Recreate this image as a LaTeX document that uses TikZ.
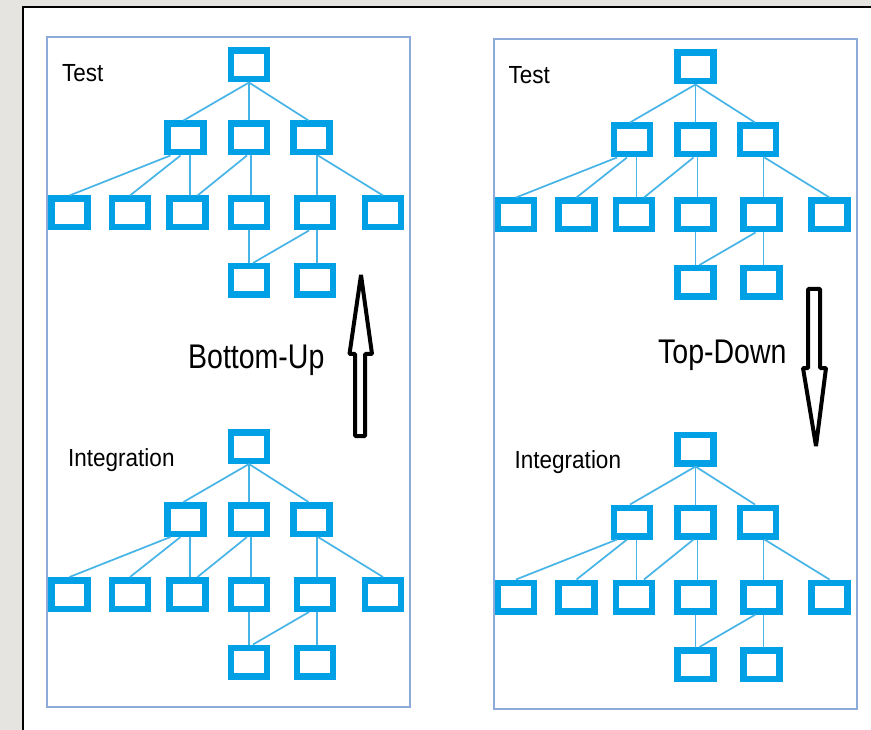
\documentclass[tikz,border=0pt]{standalone}
\usepackage{fontspec}
\setmainfont{Liberation Sans}
\usepackage{graphicx}
\definecolor{boxblue}{RGB}{0,160,230}
\definecolor{linkblue}{RGB}{70,180,230}
\definecolor{panelblue}{RGB}{140,170,218}
\definecolor{slidegray}{RGB}{230,228,225}

\begin{document}
\begin{tikzpicture}[x=1pt,y=-1pt,
	unit/.style={draw=boxblue, line width=6.5pt, fill=white, minimum width=36pt, minimum height=28.5pt, inner sep=0pt},
	link/.style={draw=linkblue, line width=1.7pt},
	panel/.style={draw=panelblue, line width=2pt},
	bigarrow/.style={draw=black, line width=4pt, fill=white, line join=bevel},
	lbl/.style={anchor=base west, inner sep=0pt, font=\fontsize{22.5}{24}\selectfont},
	mode/.style={anchor=base west, inner sep=0pt, font=\fontsize{28.5}{30}\selectfont}]

		\useasboundingbox (0,0) rectangle (871,730);
		\clip (0,0) rectangle (871,730);
		\fill[slidegray] (0,0) rectangle (871,730);
		\draw[fill=white, line width=2pt] (23,7.5) rectangle (890,750);

		% the two panels
		\draw[panel] (47,37) rectangle (410,707);
		\draw[panel] (493.5,39) rectangle (857,709);

		% four copies of the same tree
		\foreach \t/\dx/\dy/\txt/\lx/\ly in {lt/0/0/Test/62/82, lb/0/381.5/Integration/68/84.5,
				rt/446.5/2/Test/62/82, rb/446.5/384/Integration/68/84.5} {
			\begin{scope}[shift={(\dx,\dy)}]
				\node[lbl] (\t-name) at (\lx,\ly) {\scalebox{1}[1.1]{\txt}};

				\node[unit] (\t-r) at (249,65) {};
				\node[unit] (\t-a) at (185.5,138) {};
				\node[unit] (\t-b) at (249,138) {};
				\node[unit] (\t-c) at (311.5,138) {};
				\node[unit] (\t-l1) at (69.5,213) {};
				\node[unit] (\t-l2) at (130,213) {};
				\node[unit] (\t-l3) at (187.5,213) {};
				\node[unit] (\t-l4) at (249,213) {};
				\node[unit] (\t-l5) at (315,213) {};
				\node[unit] (\t-l6) at (383,213) {};
				\node[unit] (\t-m1) at (249,280.5) {};
				\node[unit] (\t-m2) at (315,280.5) {};

				\draw[link] (\t-r.south) -- ([xshift=-2pt]\t-a.north);
				\draw[link] (\t-r.south) -- (\t-b.north);
				\draw[link] (\t-r.south) -- ([xshift=-3pt]\t-c.north);
				\draw[link] ([xshift=-15pt]\t-a.south) -- (\t-l1.north);
				\draw[link] ([xshift=-5pt]\t-a.south) -- (\t-l2.north);
				\draw[link] ([xshift=4.5pt]\t-a.south) -- ([xshift=2.5pt]\t-l3.north);
				\draw[link] ([xshift=-2pt]\t-b.south) -- ([xshift=10pt]\t-l3.north);
				\draw[link] ([xshift=2pt]\t-b.south) -- ([xshift=2pt]\t-l4.north);
				\draw[link] ([xshift=5.5pt]\t-c.south) -- ([xshift=2pt]\t-l5.north);
				\draw[link] ([xshift=6.5pt]\t-c.south) -- (\t-l6.north);
				\draw[link] (\t-l4.south) -- (\t-m1.north);
				\draw[link] ([xshift=-6pt]\t-l5.south) -- ([xshift=4pt]\t-m1.north);
				\draw[link] ([xshift=2pt]\t-l5.south) -- ([xshift=2pt]\t-m2.north);
			\end{scope}
		}

		% direction labels and hollow arrows
		\node[mode] (bu) at (188,368) {\scalebox{1}[1.2]{Bottom-Up}};
		\node[mode] (td) at (658,363) {\scalebox{1}[1.2]{Top-Down}};
		\draw[bigarrow] (361,275) -- (372,354) -- (365,354) -- (365,436) -- (355,436)
			-- (355,354) -- (349.5,354) -- cycle;
		\draw[bigarrow] (816,446) -- (826,368) -- (820,368) -- (820,289) -- (808,289)
			-- (808,368) -- (803,368) -- cycle;

\end{tikzpicture}
\end{document}
